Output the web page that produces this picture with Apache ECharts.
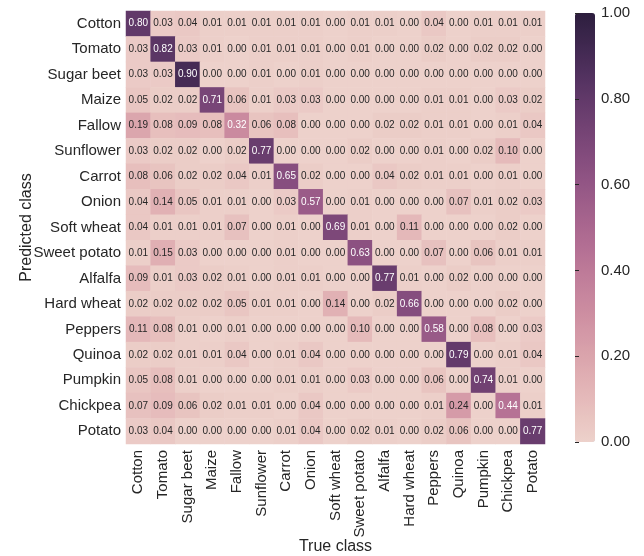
<!DOCTYPE html>
<html>
<head>
<meta charset="utf-8">
<script src="https://cdn.jsdelivr.net/npm/echarts@6/dist/echarts.min.js"></script>
<style>
  html, body { margin: 0; padding: 0; background: #fff; }
  #chart { width: 644px; height: 556px; }
</style>
</head>
<body>
<div id="chart"></div>
<script>
const classes = ['Cotton', 'Tomato', 'Sugar beet', 'Maize', 'Fallow', 'Sunflower', 'Carrot', 'Onion',
  'Soft wheat', 'Sweet potato', 'Alfalfa', 'Hard wheat', 'Peppers', 'Quinoa', 'Pumpkin', 'Chickpea', 'Potato'];

// rows = predicted class, columns = true class
const matrix = [
  [0.80, 0.03, 0.04, 0.01, 0.01, 0.01, 0.01, 0.01, 0.00, 0.01, 0.01, 0.00, 0.04, 0.00, 0.01, 0.01, 0.01],
  [0.03, 0.82, 0.03, 0.01, 0.00, 0.01, 0.01, 0.01, 0.00, 0.01, 0.00, 0.00, 0.02, 0.00, 0.02, 0.02, 0.00],
  [0.03, 0.03, 0.90, 0.00, 0.00, 0.01, 0.00, 0.01, 0.00, 0.00, 0.00, 0.00, 0.00, 0.00, 0.00, 0.00, 0.00],
  [0.05, 0.02, 0.02, 0.71, 0.06, 0.01, 0.03, 0.03, 0.00, 0.00, 0.00, 0.00, 0.01, 0.01, 0.00, 0.03, 0.02],
  [0.19, 0.08, 0.09, 0.08, 0.32, 0.06, 0.08, 0.00, 0.00, 0.00, 0.02, 0.02, 0.01, 0.01, 0.00, 0.01, 0.04],
  [0.03, 0.02, 0.02, 0.00, 0.02, 0.77, 0.00, 0.00, 0.00, 0.02, 0.00, 0.00, 0.01, 0.00, 0.02, 0.10, 0.00],
  [0.08, 0.06, 0.02, 0.02, 0.04, 0.01, 0.65, 0.02, 0.00, 0.00, 0.04, 0.02, 0.01, 0.01, 0.00, 0.01, 0.00],
  [0.04, 0.14, 0.05, 0.01, 0.01, 0.00, 0.03, 0.57, 0.00, 0.01, 0.00, 0.00, 0.00, 0.07, 0.01, 0.02, 0.03],
  [0.04, 0.01, 0.01, 0.01, 0.07, 0.00, 0.01, 0.00, 0.69, 0.01, 0.00, 0.11, 0.00, 0.00, 0.00, 0.02, 0.00],
  [0.01, 0.15, 0.03, 0.00, 0.00, 0.00, 0.01, 0.00, 0.00, 0.63, 0.00, 0.00, 0.07, 0.00, 0.06, 0.01, 0.01],
  [0.09, 0.01, 0.03, 0.02, 0.01, 0.00, 0.01, 0.01, 0.00, 0.00, 0.77, 0.01, 0.00, 0.02, 0.00, 0.00, 0.00],
  [0.02, 0.02, 0.02, 0.02, 0.05, 0.01, 0.01, 0.00, 0.14, 0.00, 0.02, 0.66, 0.00, 0.00, 0.00, 0.02, 0.00],
  [0.11, 0.08, 0.01, 0.00, 0.01, 0.00, 0.00, 0.00, 0.00, 0.10, 0.00, 0.00, 0.58, 0.00, 0.08, 0.00, 0.03],
  [0.02, 0.02, 0.01, 0.01, 0.04, 0.00, 0.01, 0.04, 0.00, 0.00, 0.00, 0.00, 0.00, 0.79, 0.00, 0.01, 0.04],
  [0.05, 0.08, 0.01, 0.00, 0.00, 0.00, 0.01, 0.01, 0.00, 0.03, 0.00, 0.00, 0.06, 0.00, 0.74, 0.01, 0.00],
  [0.07, 0.09, 0.06, 0.02, 0.01, 0.01, 0.00, 0.04, 0.00, 0.00, 0.00, 0.00, 0.01, 0.24, 0.00, 0.44, 0.01],
  [0.03, 0.04, 0.00, 0.00, 0.00, 0.00, 0.01, 0.04, 0.00, 0.02, 0.01, 0.00, 0.02, 0.06, 0.00, 0.00, 0.77]
];

const colorbarMin = 0;
const colorbarMax = 1;
const colorbarStep = 0.2;

// seaborn-like cubehelix palette (light .85 -> dark .15)
function cubehelix(x) {
  const a = 0.8 * x * (1 - x) / 2;
  const phi = 2 * Math.PI * (0.4 * x);
  const c = Math.cos(phi), s = Math.sin(phi);
  const ch = v => Math.round(Math.max(0, Math.min(1, v)) * 255);
  const r = x + a * (-0.14861 * c + 1.78277 * s);
  const g = x + a * (-0.29227 * c - 0.90649 * s);
  const b = x + a * (1.97294 * c);
  return 'rgb(' + ch(r) + ',' + ch(g) + ',' + ch(b) + ')';
}
const palette = [];
for (let i = 0; i <= 20; i++) palette.push(cubehelix(0.85 - 0.7 * i / 20));

const textColor = '#262626';
const font = 'Liberation Sans, Arial, sans-serif';

const cells = [];
matrix.forEach((row, y) => {
  row.forEach((v, x) => {
    cells.push({
      value: [x, y, v],
      label: { color: v >= 0.3 ? '#fff' : textColor }
    });
  });
});

const chart = echarts.init(document.getElementById('chart'));
chart.setOption({
  animation: false,
  textStyle: { fontFamily: font },
  grid: [
    { left: 126, top: 11, width: 419, height: 433, outerBoundsMode: 'none', containLabel: false },
    { left: 575, top: 13, width: 20, height: 429, outerBoundsMode: 'none', containLabel: false }
  ],
  xAxis: [
    {
      type: 'category',
      data: classes,
      gridIndex: 0,
      name: 'True class',
      nameLocation: 'middle',
      nameGap: 95,
      nameMoveOverlap: false,
      nameTextStyle: { fontSize: 16, color: textColor },
      axisLine: { show: false },
      axisTick: { show: false },
      splitLine: { show: false },
      axisLabel: { rotate: 90, fontSize: 15, color: textColor, margin: 6, interval: 0 }
    },
    { type: 'value', gridIndex: 1, show: false, min: colorbarMin, max: colorbarMax }
  ],
  yAxis: [
    {
      type: 'category',
      data: classes,
      inverse: true,
      gridIndex: 0,
      name: 'Predicted class',
      nameLocation: 'middle',
      nameGap: 91,
      nameMoveOverlap: false,
      nameRotate: 90,
      nameTextStyle: { fontSize: 16, color: textColor },
      axisLine: { show: false },
      axisTick: { show: false },
      splitLine: { show: false },
      axisLabel: { fontSize: 15, color: textColor, margin: 5, interval: 0 }
    },
    {
      type: 'value',
      gridIndex: 1,
      position: 'right',
      min: colorbarMin,
      max: colorbarMax,
      interval: colorbarStep,
      z: 10,
      axisLine: { show: false },
      splitLine: { show: false },
      axisTick: { show: true, length: 4, lineStyle: { color: textColor, width: 1 } },
      axisLabel: {
        fontSize: 15,
        color: textColor,
        margin: 6,
        formatter: v => v.toFixed(2)
      }
    }
  ],
  visualMap: {
    type: 'continuous',
    min: colorbarMin,
    max: colorbarMax,
    calculable: false,
    seriesIndex: 0,
    orient: 'vertical',
    left: 575,
    top: 13,
    itemWidth: 20,
    itemHeight: 429,
    padding: 0,
    text: null,
    showLabel: false,
    hoverLink: false,
    indicatorSize: 0,
    inRange: { color: palette }
  },
  series: [
    {
      type: 'heatmap',
      xAxisIndex: 0,
      yAxisIndex: 0,
      data: cells,
      itemStyle: { borderWidth: 0 },
      label: {
        show: true,
        fontSize: 10,
        fontFamily: font,
        formatter: p => p.value[2].toFixed(2)
      },
      emphasis: { disabled: true }
    }
  ]
});
</script>
</body>
</html>
